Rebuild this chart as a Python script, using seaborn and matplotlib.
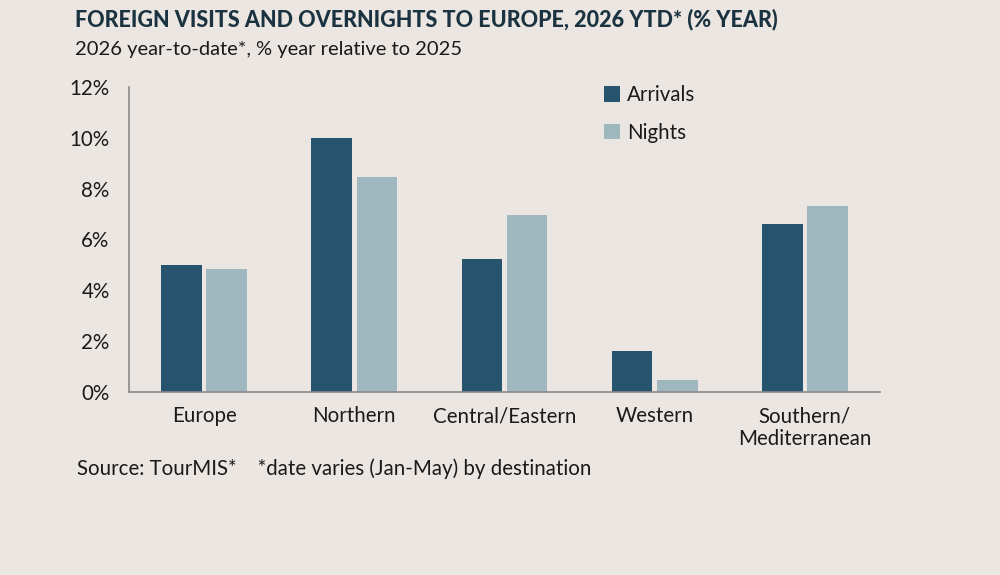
import pandas as pd
import matplotlib.pyplot as plt
import seaborn as sns
from matplotlib.ticker import FuncFormatter

# Data (% growth year-to-date 2026 vs 2025)
regions = ["Europe", "Northern", "Central/Eastern", "Western", "Southern/\nMediterranean"]
arrivals = [5.0, 10.0, 5.25, 1.6, 6.6]
nights = [4.85, 8.45, 6.95, 0.48, 7.3]

df = pd.DataFrame({
    "Region": regions * 2,
    "Series": ["Arrivals"] * len(regions) + ["Nights"] * len(regions),
    "Value": arrivals + nights,
})

bg = "#ebe6e1"
dark = "#26536d"
light = "#9fb8c0"
axis_grey = "#8a8a8a"
txt = "#1a1a1a"

sns.set_style("white")
plt.rcParams["font.family"] = ["Lato", "DejaVu Sans"]

fig = plt.figure(figsize=(10, 5.75), dpi=100, facecolor=bg)
ax = fig.add_axes([0.129, 0.318, 0.751, 0.531], facecolor=bg)

sns.barplot(
    data=df, x="Region", y="Value", hue="Series",
    palette=[dark, light], width=0.6, gap=0.1,
    saturation=1, linewidth=0, ax=ax, legend=True,
)

ax.set_ylim(0, 12)
ax.set_xlim(-0.5, len(regions) - 0.5)
ax.set_yticks(range(0, 13, 2))
ax.yaxis.set_major_formatter(FuncFormatter(lambda v, p: f"{v:.0f}%"))
ax.set_xlabel("")
ax.set_ylabel("")

for s in ["top", "right"]:
    ax.spines[s].set_visible(False)
for s in ["left", "bottom"]:
    ax.spines[s].set_color(axis_grey)
    ax.spines[s].set_linewidth(1.2)

ax.tick_params(axis="y", direction="out", length=6, width=1.2, color=axis_grey,
               labelsize=14.8, pad=8, labelcolor=txt)
ax.tick_params(axis="x", which="major", length=0, labelsize=14.8, pad=10, labelcolor=txt)
ax.set_xticks([i + 0.5 for i in range(len(regions))], minor=True)
ax.tick_params(axis="x", which="minor", direction="out", length=6, width=1.2, color=axis_grey)

leg = ax.legend(
    loc="upper left", bbox_to_anchor=(0.585, 0.884), bbox_transform=fig.transFigure,
    frameon=False, fontsize=14.8, handlelength=0.8, handleheight=0.8,
    handletextpad=0.35, labelspacing=0.85,
)
for t in leg.get_texts():
    t.set_color(txt)

fig.text(0.075, 0.967, "FOREIGN VISITS AND OVERNIGHTS TO EUROPE, 2026 YTD* (% YEAR)",
         fontsize=15.5, fontweight="black", color="#1b3340", va="center")
fig.text(0.075, 0.914, "2026 year-to-date*, % year relative to 2025",
         fontsize=14.5, color=txt, va="center")
fig.text(0.077, 0.185, "Source: TourMIS*    *date varies (Jan-May) by destination",
         fontsize=14.8, color=txt, va="center")

plt.savefig("out.png", dpi=100, facecolor=bg)
